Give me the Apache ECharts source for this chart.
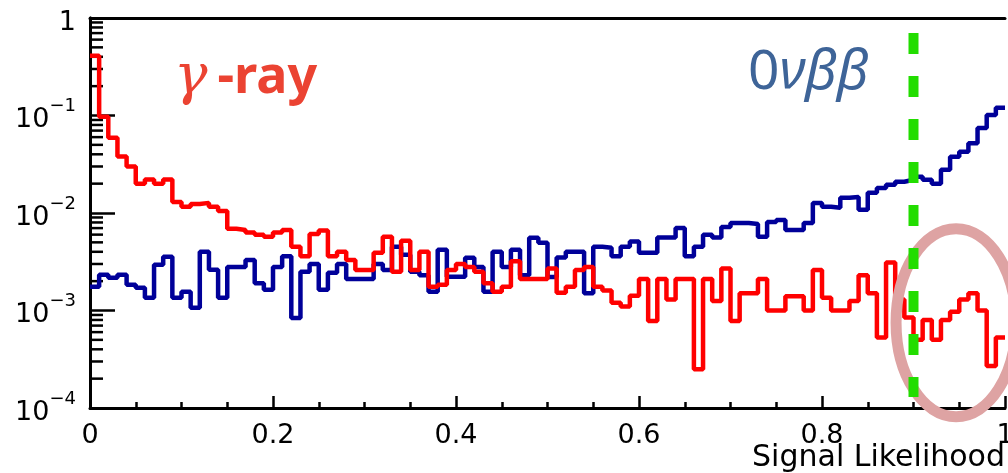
<!DOCTYPE html>
<html>
<head>
<meta charset="utf-8">
<script src="https://cdn.jsdelivr.net/npm/echarts@6/dist/echarts.min.js"></script>
<style>
html, body { margin: 0; padding: 0; background: #fff; }
#main { width: 1008px; height: 473px; }
</style>
</head>
<body>
<div id="main"></div>
<script>
// 100 bins over [0,1], normalised histograms
var nBins = 100;

var gammaRay = [
    0.41, 0.097, 0.059, 0.038, 0.030, 0.020, 0.022, 0.020, 0.022, 0.013,
    0.0116, 0.0124, 0.0127, 0.0116, 0.0105, 0.0069, 0.0067, 0.0063, 0.0060, 0.0057,
    0.0063, 0.0067, 0.0045, 0.0036, 0.0061, 0.0066, 0.0036, 0.0040, 0.0033, 0.0026,
    0.0026, 0.0039, 0.0057, 0.0025, 0.0052, 0.0026, 0.0040, 0.00175, 0.00184, 0.0026,
    0.0030, 0.0028, 0.0025, 0.0019, 0.00156, 0.00175, 0.0032, 0.0021, 0.0021, 0.0021,
    0.0027, 0.00152, 0.00175, 0.0026, 0.0028, 0.00175, 0.0016, 0.0012, 0.0011, 0.00142,
    0.0021, 0.00078, 0.0021, 0.0013, 0.0021, 0.0021, 0.00025, 0.0021, 0.00125, 0.0027,
    0.00078, 0.0015, 0.0015, 0.0021, 0.0010, 0.0010, 0.0014, 0.0014, 0.0010, 0.0026,
    0.00135, 0.0010, 0.0010, 0.00125, 0.0023, 0.0015, 0.00053, 0.0031, 0.0013, 0.00085,
    0.00050, 0.00080, 0.00050, 0.00080, 0.00097, 0.0013, 0.0015, 0.0010, 0.00027, 0.00053
];

var zeroNuBB = [
    0.00175, 0.00233, 0.00217, 0.00233, 0.00184, 0.00171, 0.00135, 0.00295, 0.00356, 0.00135,
    0.00156, 0.00107, 0.0040, 0.00262, 0.00135, 0.0028, 0.0028, 0.0033, 0.0019, 0.00163,
    0.0028, 0.0036, 0.00084, 0.0025, 0.0030, 0.00163, 0.00244, 0.0030, 0.0021, 0.0021,
    0.0021, 0.0030, 0.0026, 0.0045, 0.00373, 0.0025, 0.0023, 0.00156, 0.0042, 0.00222,
    0.00222, 0.00348, 0.0028, 0.00156, 0.0040, 0.0028, 0.0042, 0.0023, 0.00557, 0.00495,
    0.0022, 0.0035, 0.0040, 0.0040, 0.0015, 0.0045, 0.0044, 0.0036, 0.0045, 0.0051,
    0.0039, 0.0039, 0.0056, 0.0056, 0.0070, 0.0036, 0.0045, 0.0060, 0.0056, 0.0072,
    0.0079, 0.0079, 0.0077, 0.0057, 0.0081, 0.0085, 0.0067, 0.0067, 0.0079, 0.0127,
    0.0116, 0.0113, 0.0143, 0.0146, 0.0108, 0.0161, 0.0181, 0.0195, 0.0209, 0.0219,
    0.0235, 0.0219, 0.0200, 0.0277, 0.0377, 0.0424, 0.052, 0.0746, 0.101, 0.120
];

var xTicks = [0, 0.2, 0.4, 0.6, 0.8, 1];
var yDecades = [-4, -3, -2, -1, 0];
var cutValue = 0.9;
var cutRange = [0.70, 0.00013];

var FONT = 'DejaVu Sans';

// bin lower edges + closing point, drawn with step 'end'
function stepData(vals) {
    var d = [];
    for (var i = 0; i < vals.length; i++) {
        d.push([i / nBins, vals[i]]);
    }
    d.push([1, vals[vals.length - 1]]);
    return d;
}

// ROOT style minor ticks at 2..9 x 10^k
var minorY = [];
for (var k = 0; k < yDecades.length - 1; k++) {
    for (var m = 2; m <= 9; m++) {
        minorY.push([0, m * Math.pow(10, yDecades[k])]);
    }
}

var chart = echarts.init(document.getElementById('main'));

var option = {
    animation: false,
    grid: { left: 90, right: 3, top: 18, bottom: 65, containLabel: false, outerBoundsMode: 'none' },
    xAxis: [
        {
            type: 'value',
            min: 0,
            max: 1,
            interval: 0.2,
            axisLine: { lineStyle: { color: '#000', width: 3 } },
            axisTick: { inside: true, length: 12, lineStyle: { color: '#000', width: 2.5 } },
            minorTick: { show: true, splitNumber: 4, length: 6, lineStyle: { color: '#000', width: 2.5 } },
            splitLine: { show: false },
            axisLabel: {
                margin: 14,
                fontFamily: FONT,
                fontSize: 27,
                color: '#000',
                formatter: function (v) {
                    if (v === 0) return '0';
                    if (v === 1) return '1';
                    return v.toFixed(1);
                }
            }
        },
        {
            type: 'value',
            position: 'top',
            min: 0,
            max: 1,
            axisLine: { show: true, lineStyle: { color: '#000', width: 3 } },
            axisTick: { show: false },
            axisLabel: { show: false },
            splitLine: { show: false }
        }
    ],
    yAxis: [
        {
            type: 'log',
            logBase: 10,
            min: 0.0001,
            max: 1,
            axisLine: { show: true, lineStyle: { color: '#000', width: 3 } },
            axisTick: { inside: true, length: 25, lineStyle: { color: '#000', width: 2.5 } },
            splitLine: { show: false },
            axisLabel: {
                margin: 14,
                color: '#000',
                formatter: function (v) {
                    var e = Math.round(Math.log(v) / Math.LN10);
                    if (e === 0) return '{b|1}';
                    return '{b|10}{s|\u2212' + (-e) + '}';
                },
                rich: {
                    b: { fontFamily: FONT, fontSize: 27, lineHeight: 36, verticalAlign: 'bottom', color: '#000' },
                    s: { fontFamily: FONT, fontSize: 18, lineHeight: 18, verticalAlign: 'top', color: '#000' }
                }
            }
        },
        {
            type: 'log',
            position: 'right',
            min: 0.0001,
            max: 1,
            axisLine: { show: true, lineStyle: { color: '#000', width: 3 } },
            axisTick: { show: false },
            axisLabel: { show: false },
            splitLine: { show: false }
        }
    ],
    series: [
        {
            name: 'minorY',
            type: 'custom',
            silent: true,
            data: minorY,
            renderItem: function (params, api) {
                var p = api.coord([0, api.value(1)]);
                return {
                    type: 'line',
                    shape: { x1: p[0], y1: p[1], x2: p[0] + 13, y2: p[1] },
                    style: { stroke: '#000', lineWidth: 2.5 }
                };
            },
            z: 1
        },
        {
            name: '0vbb',
            type: 'line',
            step: 'end',
            showSymbol: false,
            data: stepData(zeroNuBB),
            lineStyle: { color: '#000099', width: 4.5 },
            z: 2
        },
        {
            name: 'gamma',
            type: 'line',
            step: 'end',
            showSymbol: false,
            data: stepData(gammaRay),
            lineStyle: { color: '#ff0000', width: 4.5 },
            z: 3
        },
        {
            name: 'cut',
            type: 'line',
            showSymbol: false,
            data: [[cutValue, cutRange[0]], [cutValue, cutRange[1]]],
            lineStyle: { color: '#22dd00', width: 10, type: [21, 22] },
            z: 10
        }
    ],
    graphic: [
        {
            type: 'text',
            left: 174,
            top: 50,
            z: 20,
            style: {
                text: '{g|\u03b3}{r|-ray}',
                rich: {
                    g: { fontFamily: 'DejaVu Serif', fontStyle: 'italic', fontSize: 56, fill: '#eb4332', padding: [0, 10, 0, 0] },
                    r: { fontFamily: 'Noto Sans', fontWeight: 'bold', fontSize: 52, fill: '#eb4332' }
                }
            }
        },
        {
            type: 'text',
            left: 748,
            top: 46,
            z: 20,
            style: {
                text: '{a|0}{b|\u03bd\u03b2\u03b2}',
                rich: {
                    a: { fontFamily: 'Noto Sans', fontSize: 55, fill: '#3e6498' },
                    b: { fontFamily: 'Noto Sans', fontStyle: 'italic', fontSize: 55, fill: '#3e6498' }
                }
            }
        },
        {
            type: 'text',
            right: 3,
            top: 443,
            z: 20,
            style: { text: 'Signal Likelihood', fontFamily: FONT, fontSize: 30, fill: '#000' }
        }
    ]
};

chart.setOption(option);

// highlight ring round the region past the cut
var ringC = chart.convertToPixel({ gridIndex: 0 }, [0.9465, 0.00075]);
chart.setOption({
    graphic: [
        {
            type: 'ellipse',
            id: 'ring',
            z: 5,
            shape: { cx: ringC[0], cy: ringC[1], rx: 60, ry: 94 },
            style: { fill: 'none', stroke: '#dea3a3', lineWidth: 11 }
        }
    ]
});
</script>
</body>
</html>
